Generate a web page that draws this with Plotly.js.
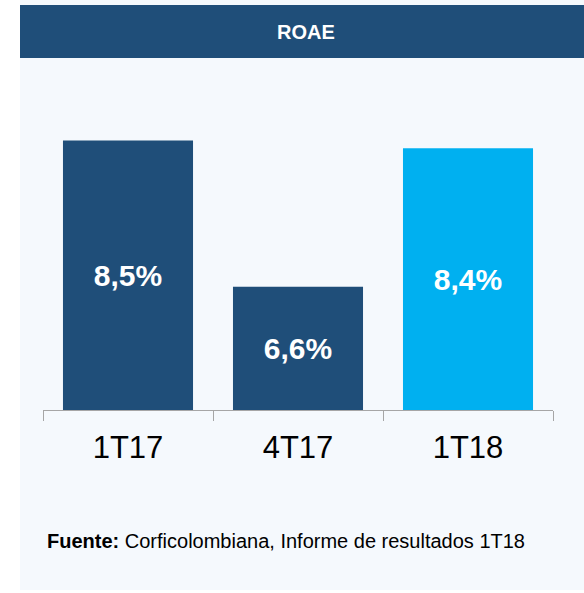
<!DOCTYPE html>
<html>
<head>
<meta charset="utf-8">
<script src="https://cdn.plot.ly/plotly-3.0.1.min.js"></script>
<style>html,body{margin:0;padding:0;background:#fff;}#chart{width:584px;height:593px;}</style>
</head>
<body>
<div id="chart"></div>
<script>
var categories = ["1T17", "4T17", "1T18"];
var roae = [8.5, 6.6, 8.4];
var axisBase = 5;

var barColors = ["#1f4e79", "#1f4e79", "#00b0f0"];

var W = 584, H = 593, L = 43, R = 31, T = 70, B = 183;
var pw = W - L - R, ph = H - T - B;
function px(x){ return (x - L) / pw; }
function py(y){ return (H - B - y) / ph; }

var trace = {
  type: "bar",
  x: categories,
  y: roae.map(function(v){ return v - axisBase; }),
  base: roae.map(function(){ return axisBase; }),
  customdata: roae,
  width: 0.765,
  marker: {color: barColors, line: {width: 0}},
  texttemplate: "<b>%{customdata:.1f}%</b>",
  textposition: "inside",
  insidetextanchor: "middle",
  textangle: 0,
  constraintext: "none",
  textfont: {color: "#ffffff", size: 30, family: "Liberation Sans, Arial, sans-serif"},
  hoverinfo: "none"
};

var layout = {
  width: W, height: H,
  margin: {l: L, r: R, t: T, b: B, pad: 0},
  paper_bgcolor: "#ffffff",
  plot_bgcolor: "rgba(0,0,0,0)",
  separators: ",.",
  showlegend: false,
  font: {family: "Liberation Sans, Arial, sans-serif", color: "#000"},
  title: {
    text: "<b>ROAE</b>",
    font: {size: 20, color: "#ffffff", family: "Liberation Sans, Arial, sans-serif"},
    x: 306 / W, xanchor: "center", xref: "container",
    y: 1 - 32 / H, yanchor: "middle", yref: "container"
  },
  xaxis: {
    type: "category",
    showline: true, linecolor: "#a6a6a6", linewidth: 1,
    ticks: "outside", tickson: "boundaries", ticklen: 10, tickcolor: "#a6a6a6", tickwidth: 1,
    tickfont: {size: 31, color: "#000000"},
    ticklabelstandoff: 10,
    showgrid: false, zeroline: false, fixedrange: true
  },
  yaxis: {
    range: [axisBase, axisBase + ph / 77],
    visible: false, showgrid: false, zeroline: false, fixedrange: true
  },
  shapes: [
    {type: "rect", xref: "paper", yref: "paper", layer: "below",
     x0: px(20), x1: px(584), y0: py(590), y1: py(0),
     fillcolor: "#f5f9fd", line: {width: 0}},
    {type: "rect", xref: "paper", yref: "paper", layer: "below",
     x0: px(20), x1: px(584), y0: py(58), y1: py(5),
     fillcolor: "#1f4e79", line: {width: 0}}
  ],
  annotations: [
    {xref: "paper", yref: "paper", x: px(45), y: py(541), xanchor: "left", yanchor: "middle",
     showarrow: false, align: "left",
     text: "<b>Fuente:</b> Corficolombiana, Informe de resultados 1T18",
     font: {size: 20, color: "#000000", family: "Liberation Sans, Arial, sans-serif"}}
  ]
};

Plotly.newPlot("chart", [trace], layout, {displayModeBar: false, staticPlot: true});
</script>
</body>
</html>
